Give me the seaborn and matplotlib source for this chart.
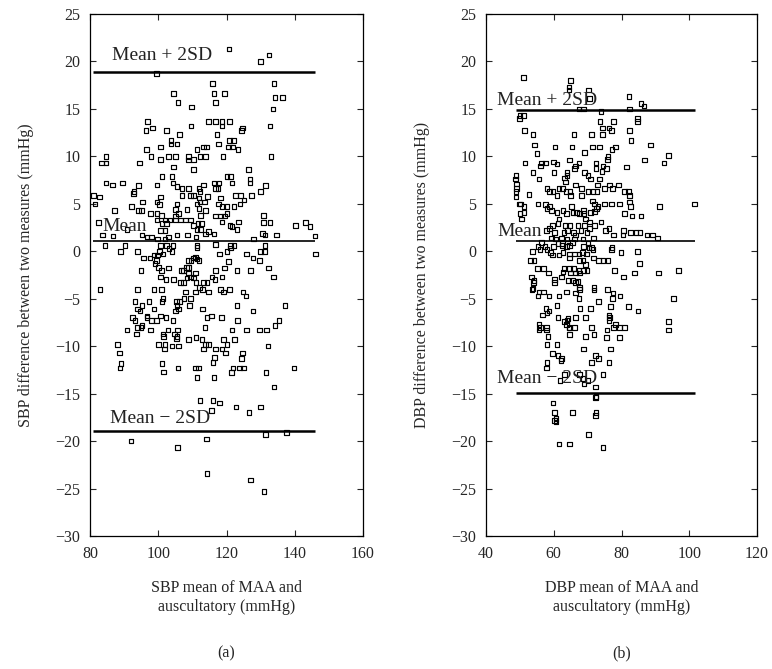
import matplotlib
matplotlib.use("Agg")
import matplotlib.pyplot as plt
import seaborn as sns
import pandas as pd

# ---------------- data ----------------
sbp_mean = [
120.7,130.0,132.5,99.4,115.9,133.9,104.5,116.3,119.4,134.2,136.4,105.8,116.8,109.7,133.6,
96.9,96.4,98.4,102.4,109.6,114.8,116.8,118.7,120.9,118.7,124.6,124.4,132.7,106.2,117.2,
103.7,105.5,103.7,120.9,117.7,122.1,121.8,123.4,96.5,100.6,111.4,113.3,114.1,120.5,84.7,
83.4,84.7,94.5,97.9,100.6,103.0,105.0,108.9,108.9,110.4,112.2,113.8,119.0,133.0,104.5,
110.4,126.4,101.1,104.0,120.2,121.1,126.9,126.9,84.7,86.6,89.6,94.2,92.9,92.7,99.6,
104.3,105.5,107.0,107.0,108.9,109.4,110.4,111.9,113.3,112.2,111.9,116.3,117.8,116.8,117.5,
121.6,114.5,118.2,122.6,124.1,127.4,130.0,131.5,81.0,82.7,81.5,95.4,92.1,94.2,95.1,
87.1,100.6,99.6,100.4,97.8,99.6,100.9,105.5,105.0,106.0,105.0,108.4,111.4,112.2,113.5,
111.9,113.8,112.3,117.7,118.7,120.2,122.2,123.9,125.1,120.2,118.2,116.8,130.8,99.6,102.0,
103.5,105.0,106.5,108.0,109.4,101.1,102.5,100.6,102.0,110.4,111.6,112.6,112.3,111.4,114.8,
113.8,116.3,119.4,118.7,121.0,121.6,123.1,123.6,130.9,132.7,130.5,131.3,128.0,134.7,140.3,
143.2,144.5,145.9,82.5,90.8,83.7,86.7,95.2,96.7,98.1,99.8,102.0,103.0,105.5,108.6,
111.1,84.4,90.3,100.6,102.5,104.3,111.4,116.8,121.2,122.2,131.3,
89.0,94.0,100.4,101.4,99.8,98.8,97.6,95.7,103.1,104.0,111.4,111.0,111.4,110.4,118.0,
120.2,121.2,120.5,125.9,127.8,129.7,130.0,131.2,146.0,99.4,100.0,101.0,99.0,95.0,103.0,
106.8,107.4,108.2,108.9,109.6,108.9,108.9,110.9,109.4,108.4,110.4,111.9,116.8,119.4,123.1,
127.0,132.3,133.7,100.6,102.3,104.5,106.5,107.4,111.1,113.3,114.3,115.8,116.6,118.7,82.9,
94.0,98.8,100.9,107.9,110.9,112.1,113.0,114.8,118.2,119.2,120.9,124.8,125.7,93.2,95.2,
94.0,94.6,97.3,98.8,101.4,101.1,105.3,106.3,105.5,106.0,105.0,107.5,109.4,109.2,113.0,
123.1,127.8,137.2,92.5,93.2,95.2,94.0,95.0,96.7,96.7,98.1,99.4,100.6,102.3,104.3,
93.7,90.8,97.8,114.3,115.6,118.5,123.3,134.2,135.4,101.4,101.6,102.8,104.7,105.5,105.7,
105.3,113.7,121.6,125.9,129.7,131.8,88.1,88.6,89.1,88.8,100.1,102.0,101.8,104.0,106.0,
108.9,111.1,112.8,113.3,113.8,114.8,116.8,118.7,119.7,119.2,120.2,122.4,124.6,124.4,132.2,
116.5,116.1,101.1,101.6,105.8,110.9,111.8,111.4,116.3,121.9,123.8,124.9,121.5,131.6,139.8,
133.9,112.2,116.1,118.0,115.6,122.8,126.6,130.0,92.0,105.7,114.1,131.5,137.5,114.3,127.1,
131.0]
sbp_diff = [
21.3,20.0,20.7,18.7,17.7,17.7,16.6,16.6,16.6,16.2,16.2,15.7,15.7,15.2,15.0,
13.7,12.7,13.0,12.7,13.2,13.7,13.7,13.7,13.7,13.2,13.0,12.7,13.2,12.3,12.3,
11.7,11.3,11.3,11.7,11.3,11.7,11.0,10.7,10.7,11.0,10.7,11.0,11.0,11.0,10.0,
9.3,9.3,9.3,10.0,9.7,10.0,10.0,10.0,9.6,9.7,10.0,10.0,10.0,10.0,8.9,
8.6,8.6,7.9,7.9,7.9,7.9,7.6,7.2,7.2,7.0,7.2,6.9,6.3,6.1,7.0,
7.2,6.8,6.6,5.9,6.6,5.9,5.9,6.6,7.0,6.3,5.6,7.2,7.2,6.6,6.6,
7.2,5.8,5.6,5.9,5.9,5.9,6.3,6.9,5.9,5.7,5.0,5.2,4.7,4.3,4.3,
4.3,5.7,5.2,4.9,4.0,4.0,3.8,5.0,4.4,4.0,3.7,4.4,5.0,5.2,5.2,
4.5,4.3,3.8,5.0,4.7,4.7,4.7,5.0,5.4,4.0,3.7,3.7,3.8,3.3,3.3,
3.3,3.3,3.3,3.3,3.3,2.9,2.9,2.2,2.2,2.7,2.9,2.9,2.3,2.3,2.1,
1.8,1.8,3.7,3.1,2.7,2.6,2.3,3.1,3.0,3.0,1.9,1.7,1.3,1.7,2.7,
3.0,2.6,1.6,3.0,2.3,1.7,1.6,1.7,1.5,1.5,1.3,1.3,1.5,1.7,1.7,
1.5,0.6,0.6,0.6,0.6,0.6,0.6,0.7,0.6,0.6,0.6,
0.0,0.0,0.0,-0.3,-0.4,-0.4,-0.7,-0.7,0.3,0.0,0.4,-0.6,-0.8,-0.7,-0.3,
0.0,0.35,-1.05,-0.3,-0.7,-1.0,0.0,0.0,-0.3,-1.0,-1.7,-2.0,-1.3,-2.0,-1.75,
-2.0,-2.0,-1.7,-1.0,-1.0,-1.7,-2.3,-2.3,-2.7,-2.8,-2.8,-1.0,-2.0,-1.75,-2.0,
-2.0,-1.75,-2.7,-2.7,-3.0,-3.0,-3.3,-3.3,-3.3,-3.3,-3.3,-2.7,-3.0,-2.7,-4.0,
-4.0,-4.0,-4.0,-4.3,-4.3,-3.8,-4.0,-4.3,-4.0,-4.3,-4.0,-4.3,-4.7,-5.3,-5.7,
-6.1,-6.3,-5.3,-6.1,-5.0,-5.3,-5.3,-5.3,-5.7,-6.1,-6.3,-5.0,-5.0,-5.7,-6.1,
-5.7,-6.3,-5.7,-7.0,-7.3,-7.8,-8.0,-8.0,-6.8,-7.0,-7.3,-7.3,-6.8,-7.0,-7.3,
-8.7,-8.3,-8.3,-7.0,-6.8,-7.0,-7.3,-7.8,-7.3,-8.7,-9.0,-8.3,-8.7,-9.0,-8.3,
-9.2,-8.0,-8.3,-8.3,-8.3,-8.3,-9.8,-10.7,-11.8,-12.3,-9.8,-9.8,-10.3,-10.0,-10.0,
-9.3,-9.1,-9.3,-10.3,-9.8,-9.8,-10.3,-10.3,-10.7,-9.3,-9.8,-9.3,-10.7,-11.3,-10.0,
-11.2,-11.7,-11.8,-12.7,-12.3,-12.3,-12.3,-13.3,-13.3,-12.3,-12.3,-12.3,-12.8,-12.8,-12.3,
-14.3,-15.7,-15.7,-16.0,-16.8,-16.4,-17.0,-16.4,-20.0,-20.7,-19.8,-19.3,-19.1,-23.4,-24.1,
-25.3]

dbp_mean = [
51.0,64.9,64.5,64.5,70.3,70.6,82.2,85.8,86.6,67.5,68.7,82.4,50.0,51.0,49.8,
74.0,84.8,84.8,73.7,77.6,74.4,76.3,77.0,74.4,51.3,53.9,66.0,71.1,82.4,82.8,
54.4,60.4,65.4,69.1,71.4,73.5,77.2,78.2,88.5,55.1,76.0,75.8,74.5,75.5,93.9,
92.6,51.5,56.4,57.6,56.0,60.0,61.0,64.7,66.5,67.5,66.2,69.1,70.1,70.8,72.5,
72.5,74.3,73.5,81.4,86.8,53.9,55.7,60.1,63.9,63.9,63.5,63.2,48.8,48.7,49.0,
52.7,49.0,48.8,48.8,49.8,50.2,51.2,50.0,50.5,51.2,58.0,58.8,59.8,61.0,61.6,
62.6,63.6,65.0,64.8,66.5,68.2,68.2,70.1,71.6,72.8,73.0,75.0,76.5,77.3,79.2,
80.9,82.1,82.4,55.4,57.6,58.8,59.3,58.0,71.4,72.1,72.6,73.1,72.1,75.0,77.0,
79.4,82.4,82.6,80.9,91.2,101.5,61.0,62.7,63.7,65.2,65.7,66.7,67.6,68.8,68.8,
70.8,61.6,61.3,63.3,64.8,67.2,69.1,70.6,72.0,74.0,69.4,70.6,76.3,83.1,85.8,
57.8,58.8,59.6,60.3,63.0,64.0,65.9,66.5,68.1,69.8,75.3,77.6,80.4,80.6,82.6,
84.3,85.5,87.5,89.2,90.7,59.3,60.6,62.3,63.9,66.2,68.6,71.8,55.4,57.4,60.0,
62.6,63.8,68.7,71.1,77.2,
56.4,61.3,62.6,64.7,65.5,70.1,70.4,71.6,53.7,55.9,58.0,59.0,59.6,61.6,62.7,
64.7,66.2,67.5,68.4,69.6,71.8,73.2,74.5,76.0,77.0,79.9,84.8,53.2,54.2,64.7,
67.6,68.6,69.3,85.3,83.9,78.0,80.6,90.9,96.9,55.2,57.0,58.5,63.0,64.7,65.9,
62.7,62.3,65.0,66.5,67.5,68.8,69.8,67.6,53.4,54.2,54.1,53.9,53.6,60.3,60.3,
64.2,65.7,66.5,67.2,67.6,67.6,55.7,56.9,55.4,58.6,61.6,63.7,66.5,67.5,71.9,
71.9,75.8,77.5,79.5,77.3,73.2,95.4,61.0,57.7,58.6,58.0,56.6,67.8,70.8,76.8,
82.1,84.9,61.3,63.2,64.2,63.7,64.5,66.2,66.5,69.4,64.7,63.9,76.3,76.5,76.3,
75.7,78.2,77.6,79.4,80.9,75.5,55.7,56.1,55.7,57.8,57.8,71.2,71.9,69.4,64.7,
58.3,58.0,61.0,93.9,93.8,79.4,68.8,76.8,59.6,61.3,62.3,62.1,72.4,73.2,58.0,
57.8,71.2,76.3,63.2,61.9,67.6,68.6,68.9,70.1,72.3,72.5,72.3,74.5,59.8,60.3,
65.5,60.7,60.7,60.3,72.5,72.4,70.3,61.6,64.7,74.5]
dbp_diff = [
18.3,18.0,17.3,17.0,17.0,16.1,16.3,15.6,15.3,15.0,15.0,15.0,14.3,14.3,14.0,
14.7,14.0,13.7,13.7,13.7,13.0,13.0,12.7,12.3,12.7,12.3,12.3,12.3,12.7,11.7,
11.2,11.0,11.0,10.4,11.0,11.0,10.7,11.0,11.2,10.3,10.0,9.7,9.0,8.7,10.1,
9.3,9.3,9.3,9.3,9.0,9.4,9.2,9.6,9.0,9.3,8.7,8.3,8.0,7.6,9.3,
8.7,8.4,7.6,8.9,9.6,8.3,7.6,8.3,8.3,8.0,7.3,7.7,8.0,7.6,7.1,
6.0,6.6,6.3,5.7,5.0,5.0,4.7,4.0,3.4,4.1,6.6,6.3,6.3,5.9,6.6,
6.6,6.3,5.9,6.3,7.0,6.6,5.9,6.3,6.3,6.3,7.0,6.6,7.0,6.6,7.0,
6.3,6.3,5.9,5.0,4.9,4.7,4.3,4.5,5.3,5.0,4.5,4.7,4.2,5.0,5.0,
5.0,5.2,4.7,4.0,4.7,5.0,4.1,4.3,4.0,4.7,4.1,4.1,4.0,4.3,4.0,
4.1,3.4,2.9,2.7,2.7,2.7,2.7,2.4,2.7,3.1,3.4,3.1,2.4,3.7,3.7,
2.2,2.4,2.7,2.0,2.0,2.2,2.0,1.7,2.2,2.0,2.2,1.7,1.7,2.2,2.0,
2.0,2.0,1.7,1.7,1.4,1.4,1.3,1.4,1.3,1.3,1.3,1.4,0.5,0.5,0.5,
0.6,0.5,0.5,0.4,0.4,
0.9,0.8,0.8,0.6,0.9,0.8,0.4,0.2,0.0,0.2,0.2,-0.1,-0.4,-0.4,-0.1,
-0.3,-0.3,-0.3,-0.1,-0.3,-0.7,-1.0,-1.0,-1.0,0.2,-0.1,0.0,-1.0,-1.0,-0.7,
-1.0,-1.0,-1.4,-1.3,-2.3,-2.0,-2.7,-2.3,-2.0,-1.8,-1.8,-2.3,-1.8,-1.8,-1.8,
-2.2,-2.7,-2.3,-2.3,-2.0,-2.0,-2.0,-2.3,-2.7,-3.1,-3.3,-3.9,-4.0,-3.0,-3.3,
-3.1,-3.1,-3.3,-3.2,-3.8,-4.0,-4.3,-4.3,-4.7,-4.7,-4.7,-4.3,-4.4,-5.0,-3.8,
-4.1,-4.0,-4.4,-4.7,-5.0,-5.3,-5.0,-5.7,-6.0,-6.3,-6.5,-6.7,-6.0,-6.0,-5.8,
-5.8,-6.3,-7.0,-7.4,-7.1,-7.7,-8.0,-8.0,-7.0,-7.0,-8.1,-7.3,-6.7,-7.0,-7.3,
-8.3,-7.7,-8.0,-8.0,-8.0,-9.1,-7.7,-8.0,-8.3,-8.0,-8.3,-8.0,-8.8,-9.0,-8.8,
-9.0,-9.8,-9.8,-7.4,-8.3,-9.1,-10.3,-10.3,-10.8,-11.0,-11.3,-11.5,-11.0,-11.3,-11.7,
-12.3,-11.7,-11.7,-13.0,-13.6,-13.0,-13.4,-14.0,-13.6,-14.3,-15.3,-15.4,-13.0,-16.0,-17.0,
-17.0,-17.6,-18.0,-17.8,-17.0,-17.3,-19.3,-20.3,-20.3,-20.7]

sbp_lines = [18.9, 1.1, -18.9]      # mean+2SD, mean, mean-2SD
sbp_line_x = [81, 146]
dbp_lines = [14.9, 1.1, -14.9]
dbp_line_x = [48.8, 101.7]
line_names = ["Mean + 2SD", "Mean", "Mean \u2212 2SD"]
sbp_label_pos = [(86.5, 20.6), (83.6, 2.6), (85.8, -17.6)]
dbp_label_pos = [(43.3, 15.9), (43.3, 2.1), (43.3, -13.4)]

# ---------------- style ----------------
sns.set_style("ticks")
plt.rcParams['font.family'] = ['Liberation Serif', 'DejaVu Serif']
plt.rcParams['axes.unicode_minus'] = True

fig = plt.figure(figsize=(7.72, 6.69), dpi=100)
ax1 = fig.add_axes([90/772, 1-536/669, 273/772, 522/669])
ax2 = fig.add_axes([486/772, 1-536/669, 271/772, 522/669])

def panel(ax, xs, ys, lines, lx, lpos, xlim, xticks, xlabel, ylabel, tag):
    df = pd.DataFrame({"x": xs, "y": ys})
    sns.scatterplot(data=df, x="x", y="y", ax=ax, marker="s", s=11,
                    facecolor="none", edgecolor="black", linewidth=0.85, legend=False)
    for i, v in enumerate(lines):
        ax.plot(lx, [v, v], color="black", lw=1.8 if i != 1 else 1.2, solid_capstyle="butt")
        ax.text(lpos[i][0], lpos[i][1], line_names[i], fontsize=14, color="#222222",
                ha="left", va="center")
    ax.set_xlim(*xlim)
    ax.set_ylim(-30, 25)
    ax.set_xticks(xticks)
    ax.set_yticks(range(-30, 26, 5))
    ax.tick_params(direction="in", top=True, right=True, length=4, width=0.8,
                   labelsize=11.5, pad=7)
    for sp in ax.spines.values():
        sp.set_linewidth(0.9)
        sp.set_color("black")
    ax.set_xlabel(xlabel, fontsize=11.5, labelpad=13, linespacing=1.25)
    ax.set_ylabel(ylabel, fontsize=11.5, labelpad=15)
    ax.text(0.5, -0.224, tag, transform=ax.transAxes, fontsize=11.5, ha="center", va="center")

panel(ax1, sbp_mean, sbp_diff, sbp_lines, sbp_line_x, sbp_label_pos, (80, 160),
      [80, 100, 120, 140, 160], "SBP mean of MAA and\nauscultatory (mmHg)",
      "SBP difference between two measures (mmHg)", "(a)")
panel(ax2, dbp_mean, dbp_diff, dbp_lines, dbp_line_x, dbp_label_pos, (40, 120),
      [40, 60, 80, 100, 120], "DBP mean of MAA and\nauscultatory (mmHg)",
      "DBP difference between two measures (mmHg)", "(b)")

fig.savefig("out.png", dpi=100)
